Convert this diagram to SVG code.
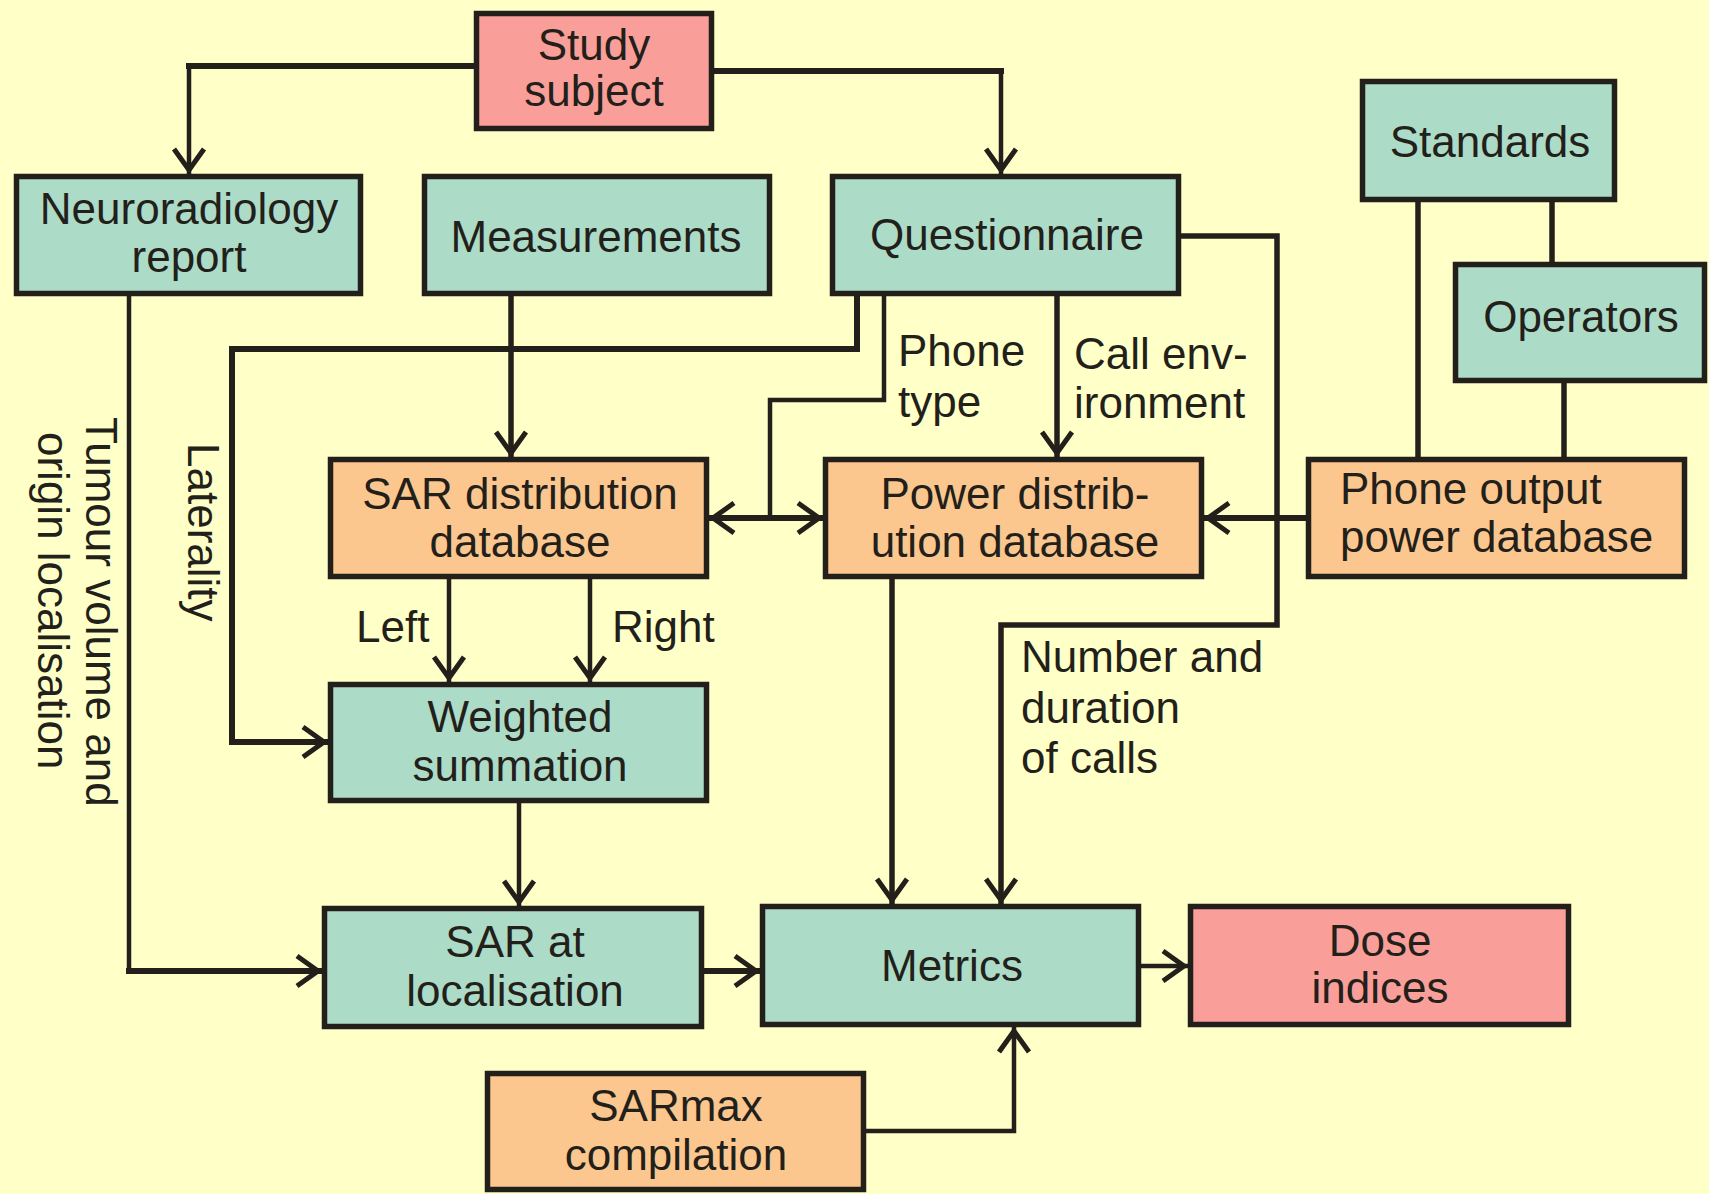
<svg xmlns="http://www.w3.org/2000/svg" width="1709" height="1194" viewBox="0 0 1709 1194">
<style>
.bx{stroke:#231f1a;stroke-width:5.5}
.teal{fill:#acdbc8}
.pink{fill:#f99e98}
.orng{fill:#fbc78e}
text{font-family:"Liberation Sans",Arial,sans-serif;font-size:44px;fill:#231f1a}
.c{text-anchor:middle}
.ln{fill:none;stroke:#231f1a;stroke-width:4.5;stroke-linejoin:miter;stroke-linecap:square}
.md{stroke-width:5.5}
.th{stroke-width:6}
.ar{marker-end:url(#ah)}
</style>
<defs>
<marker id="ah" markerUnits="userSpaceOnUse" viewBox="-30 -20 32 40" refX="0" refY="0" markerWidth="32" markerHeight="40" orient="auto-start-reverse" overflow="visible">
<path d="M-25,-15 L-4,0 L-25,15" fill="none" stroke="#231f1a" stroke-width="5"/>
</marker>
</defs>
<rect width="1709" height="1194" fill="#ffffc8"/>
<g id="connectors">
<path class="ln th" d="M474,66 H189"/>
<path class="ln ar" d="M189,66 V174"/>
<path class="ln th" d="M714,71 H1001"/>
<path class="ln ar" d="M1001,71 V174"/>
<path class="ln" d="M129,296 V971"/>
<path class="ln th ar" d="M129,971 H322"/>
<path class="ln md ar" d="M511,296 V457"/>
<path class="ln th ar" d="M857,296 V349 H232 V742 H328"/>
<path class="ln" d="M884,296 V400 H770 V518"/>
<path class="ln th ar" d="M709,518 H823" marker-start="url(#ah)"/>
<path class="ln md ar" d="M1057,296 V457"/>
<path class="ln md ar" d="M1181,236 H1277 V625 H1001 V904"/>
<path class="ln th ar" d="M1306,518 H1204"/>
<path class="ln md" d="M1418,202 V457"/>
<path class="ln md" d="M1552,202 V262"/>
<path class="ln md" d="M1564,383 V457"/>
<path class="ln md ar" d="M892,579 V904"/>
<path class="ln ar" d="M449,579 V682"/>
<path class="ln ar" d="M590,579 V682"/>
<path class="ln ar" d="M519,803 V906"/>
<path class="ln th ar" d="M704,971 H760"/>
<path class="ln ar" d="M1141,966 H1188"/>
<path class="ln ar" d="M866,1131 H1014 V1027"/>
</g>
<g id="labels">
<text x="898" y="366">Phone</text>
<text x="898" y="417">type</text>
<text x="1074" y="369">Call env-</text>
<text x="1074" y="418">ironment</text>
<text x="1021" y="672">Number and</text>
<text x="1021" y="723">duration</text>
<text x="1021" y="773">of calls</text>
<text x="356" y="642">Left</text>
<text x="612" y="642">Right</text>
<text transform="translate(188,443) rotate(90)">Laterality</text>
<text transform="translate(86,417) rotate(90)">Tumour volume and</text>
<text transform="translate(38,432) rotate(90)">origin localisation</text>
</g>
<g id="study-subject"><rect class="bx pink" x="476.5" y="13.5" width="235" height="115"/><text class="c" x="594" y="60">Study</text><text class="c" x="594" y="106">subject</text></g>
<g id="neuroradiology-report"><rect class="bx teal" x="16.5" y="176.5" width="344" height="117"/><text class="c" x="189" y="224">Neuroradiology</text><text class="c" x="189" y="272">report</text></g>
<g id="measurements"><rect class="bx teal" x="424.5" y="176.5" width="345" height="117"/><text class="c" x="596" y="252">Measurements</text></g>
<g id="questionnaire"><rect class="bx teal" x="832.5" y="176.5" width="346" height="117"/><text class="c" x="1007" y="250">Questionnaire</text></g>
<g id="standards"><rect class="bx teal" x="1362.5" y="81.5" width="252" height="118"/><text class="c" x="1490" y="157">Standards</text></g>
<g id="operators"><rect class="bx teal" x="1455.5" y="264.5" width="249" height="116"/><text class="c" x="1581" y="332">Operators</text></g>
<g id="sar-distribution-database"><rect class="bx orng" x="330.5" y="459.5" width="376" height="117"/><text class="c" x="520" y="509">SAR distribution</text><text class="c" x="520" y="557">database</text></g>
<g id="power-distribution-database"><rect class="bx orng" x="825.5" y="459.5" width="376" height="117"/><text class="c" x="1015" y="509">Power distrib-</text><text class="c" x="1015" y="557">ution database</text></g>
<g id="phone-output-power-database"><rect class="bx orng" x="1308.5" y="459.5" width="376" height="117"/><text x="1340" y="504">Phone output</text><text x="1340" y="552">power database</text></g>
<g id="weighted-summation"><rect class="bx teal" x="330.5" y="684.5" width="376" height="116"/><text class="c" x="520" y="732">Weighted</text><text class="c" x="520" y="781">summation</text></g>
<g id="sar-at-localisation"><rect class="bx teal" x="324.5" y="908.5" width="377" height="118"/><text class="c" x="515" y="957">SAR at</text><text class="c" x="515" y="1006">localisation</text></g>
<g id="metrics"><rect class="bx teal" x="762.5" y="906.5" width="376" height="118"/><text class="c" x="952" y="981">Metrics</text></g>
<g id="dose-indices"><rect class="bx pink" x="1190.5" y="906.5" width="378" height="118"/><text class="c" x="1380" y="956">Dose</text><text class="c" x="1380" y="1003">indices</text></g>
<g id="sarmax-compilation"><rect class="bx orng" x="487.5" y="1073.5" width="376" height="116"/><text class="c" x="676" y="1121">SARmax</text><text class="c" x="676" y="1170">compilation</text></g>
</svg>
